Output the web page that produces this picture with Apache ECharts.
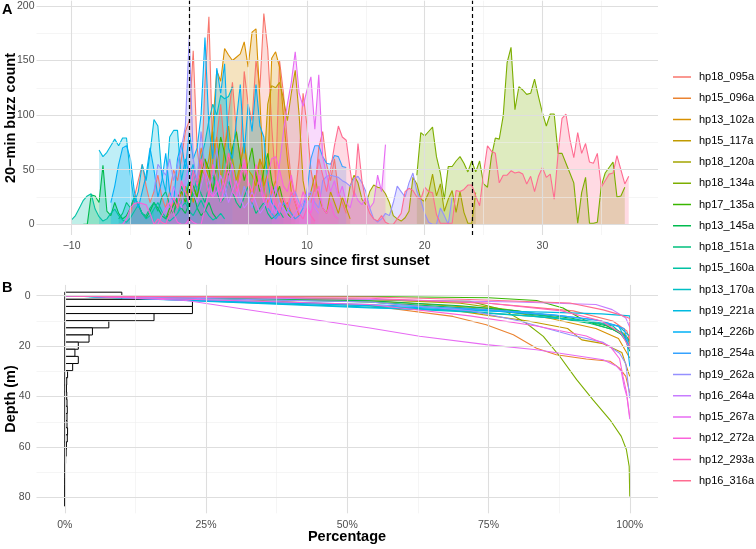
<!DOCTYPE html>
<html><head><meta charset="utf-8">
<script src="https://cdn.jsdelivr.net/npm/echarts@6/dist/echarts.min.js"></script>
<style>html,body{margin:0;padding:0;background:#fff}#c{width:756px;height:549px}</style>
</head><body><div id="c"></div>
<script>
const seriesNames = ['hp18_095a','hp15_096a','hp13_102a','hp15_117a','hp18_120a','hp18_134a','hp17_135a','hp13_145a','hp18_151a','hp15_160a','hp13_170a','hp19_221a','hp14_226b','hp18_254a','hp19_262a','hp16_264a','hp15_267a','hp12_272a','hp12_293a','hp16_316a'];
const seriesColors = ["#F8766D","#EA8331","#D89000","#C09B00","#A3A500","#7CAE00","#39B600","#00BB4E","#00BF7D","#00C1A3","#00BFC4","#00BAE0","#00B0F6","#35A2FF","#9590FF","#C77CFF","#E76BF3","#FA62DB","#FF62BC","#FF6C91"];

// start hour of each series (20-min bins)
const buzzStart = [-5, -1, -2, 0, 13.333, 19.333, -2, -9, -6, -10, -1, -7.667, -6.667, 6, -3, -2, 7, -6, -3, 10.333];

const buzz_hp18_095a = [10,25,40,55,35,20,30,45,25,15,30,50,40,60,85,95,159,70,40,130,190,60,80,110,70,100,130,85,60,140,110,95,150,125,193,160,90,40,150,120,75,40,25,60,120,90,50,30,70,85,55,40,60,30,20,10];
const buzz_hp15_096a = [10,20,35,25,50,40,70,55,30,60,80,45,35,65,50,30,55,75,40,25,45,60,35,20,30,40,25,15,20,10,5];
const buzz_hp13_102a = [5,10,20,15,30,25,40,20,35,50,45,60,90,141,131,161,155,150,153,156,167,144,176,179,114,35,47,152,158,144,99,60,30,20,8];
const buzz_hp15_117a = [20,35,25,45,60,40,85,55,35,70,90,60,40,55,75,50,45,35,60,50,110,127,125,130,115,95,120,141,100,40,20,30,45,25,15,10,30,20,10,25,15,5];
const buzz_hp18_120a = [15,35,45,38,23,18,30,36,34,33,28,20,8,5,3,6,12,43,37,23,21,29,46,26,37,12,23,31,11,30,11,1,1,29];
const buzz_hp18_134a = [45,84,81,85,89,62,47,23,53,53,58,62,56,48,58,48,58,37,34,62,79,78,99,148,162,105,126,123,119,120,133,117,102,90,101,101,65,65,56,47,38,1,29,43,1,1,2,35,47,52,57,25,26,34];
const buzz_hp17_135a = [5,15,10,25,30,20,40,35,25,45,60,50,30,55,80,65,45,70,85,60,40,55,70,45,30,50,65,40,25,35,20,10,5];
const buzz_hp13_145a = [0,0,27,26,20,54,12,8,20,10,5,8,15,25,18,10,6,12,20,15,8,5,10,18,25,15,10,20,30,15,8,12,20,10,5];
const buzz_hp18_151a = [5,10,20,15,25,18,10,8,15,20,12,25,30,18,10,20,35,25,15,30,40,28,20,35,45,30,20,25,40,30,20,15,25,35,20,10,15,20,10,5,8,12,6];
const buzz_hp15_160a = [4,8,15,22,26,28,14,7,3,5,10,14,8,4,2,6,12,18,10,5,8,14,20,12,6,3,6,10,16,20,12,8,15,22,14,8,4,6,10,5];
const buzz_hp13_170a = [10,20,30,40,50,35,60,75,95,110,100,118,115,117,126];
const buzz_hp19_221a = [68,62,66,72,78,72,79,79,45,20,30,55,40,65,96,90,45,30,80,86,86,40,60,45,55,30];
const buzz_hp14_226b = [20,35,55,70,72,60,30,15,30,45,70,50,25,40,65,30,20,60,75,50,85,60,70,100,171,90,60,143,120,147,70,60,95,128,65,110,85,128,90,80,40,20,15,8];
const buzz_hp18_254a = [40,25,15,10,5,10,20,15,10,5,8,15,30,60,72,72,62,56,55,63,62,53,52];
const buzz_hp19_262a = [30,55,50,45,60,40,55,70,90,172,60,40,85,50,30,45,70,35,25,40,55,30,20,35,25,15,30,45,20,15,25,35,20,15,10,25,30,20,15,25,30,20,15,40,44,45,44,43,40,38,35,42,44,38,30,15,5,2,5,10,8,20,35,30,25,38,47,30,22,10,2,0,0,15,8,0,25];
const buzz_hp16_264a = [10,20,35,25,15,40,55,30,20,35,50,40,25,30,45,35,20,30,40,25,15,20,30,20,10,15,25,18,10,20,15,8,5,10,15,20,30,25,15,10];
const buzz_hp15_267a = [10,30,55,85,110,130,158,120,108,123,135,87,137,62,45,30,40,25,35,20,15,30,22,18,25,15,20,45,30,73];
const buzz_hp12_272a = [0,0,5,15,19,20,19,18,10,0,0,8,15,20,10,2,0,0,5,2,0,0,15,30,25,40,20,35,50,30,25,45,60,40,30,55,35,20,45,60,62,50,35,30,45,25,15,30,20,10,25,35,15,10,20,8,5];
const buzz_hp12_293a = [0,5,2,0,10,25,15,40,30,20,50,35,60,45,25,55,40,30,45,65,50,30,40,55,35,20,30,45,25,15,35,20,10,25,15,30,20,10,5,15,8,3];
const buzz_hp16_316a = [20,35,60,45,30,50,72,90,80,77,50,25,74,40,20,10,5,3,8,2,0,0,5,10,30,33,31,25,23,34,30,29,9,1,1,1,1,31,30,32,36,36,26,17,47,72,67,65,38,45,45,49,47,48,46,37,44,30,44,52,43,46,23,65,97,101,78,61,84,65,74,57,56,65,34,40,46,47,63,50,37,44];

const buzzValues = [buzz_hp18_095a,buzz_hp15_096a,buzz_hp13_102a,buzz_hp15_117a,buzz_hp18_120a,buzz_hp18_134a,buzz_hp17_135a,buzz_hp13_145a,buzz_hp18_151a,buzz_hp15_160a,buzz_hp13_170a,buzz_hp19_221a,buzz_hp14_226b,buzz_hp18_254a,buzz_hp19_262a,buzz_hp16_264a,buzz_hp15_267a,buzz_hp12_272a,buzz_hp12_293a,buzz_hp16_316a];

// cumulative percentage vs depth: [percent, depth]
const depth_hp18_095a = [[0,0],[25,0.5],[54,1.5],[75,3],[90,6],[97,10],[99.5,14],[100,18]];
const depth_hp15_096a = [[0,0],[25,0.8],[54,4],[68.7,8.2],[74.6,11.5],[79.4,15.5],[83.5,20.8],[87,23.4],[92.3,25.1],[96.5,26],[98.2,28.7],[99.3,32],[100,38.6]];
const depth_hp13_102a = [[0,0],[25,0.5],[54,2],[75,5],[86,9],[94,13],[98,17],[100,24.7]];
const depth_hp15_117a = [[0,0],[25,0.5],[54,2.5],[65,4.5],[74,7.5],[82,10],[89,13],[91.5,17.5],[95.3,19],[98.6,22.5],[100,32]];
const depth_hp18_120a = [[0,0],[25,0.4],[54,1.5],[70,3],[80,6],[88,9],[95,11],[99,15],[100,19]];
const depth_hp18_134a = [[0,0],[25,0.3],[54,1.6],[71.7,2.2],[77.6,5.6],[81.7,10.9],[84.7,16.1],[87.6,24],[90.6,33.3],[93.5,41.3],[96.5,49.2],[98.5,55.8],[99.4,61],[99.9,67.7],[100,79.6]];
const depth_hp17_135a = [[0,0],[54,0.3],[75,0.8],[83.5,1.9],[88.2,4.9],[91.2,8.8],[94.1,11.5],[97.1,13.5],[99.4,16.1],[100,18]];
const depth_hp13_145a = [[0,0],[54,2],[70,4],[80,6],[90,9],[96,12],[99,16],[100,22]];
const depth_hp18_151a = [[0,0],[54,2.5],[72,5],[85,8],[93,11],[98,14],[100,20]];
const depth_hp15_160a = [[0,0],[54,4],[70,6],[82,8],[92,10],[97,12],[100,18]];
const depth_hp13_170a = [[0,0],[54,4.5],[72,6.5],[85,8.5],[93,10],[98,12],[100,16]];
const depth_hp19_221a = [[0,0],[54,4.8],[70,5.8],[85,6.5],[95,7.2],[100,8],[100,9]];
const depth_hp14_226b = [[0,0],[54,4],[72,5.5],[86,7.5],[94,9.5],[98,12],[99.5,18],[100,28]];
const depth_hp18_254a = [[0,0],[54,3.5],[75,5.5],[88,8],[95,10],[99,13],[100,21]];
const depth_hp19_262a = [[0,0],[54,2.5],[72,6],[80.5,10],[89.4,15.5],[95.3,18.5],[98.2,22.8],[99.3,27],[100,40.6]];
const depth_hp16_264a = [[0,0],[54,1.5],[80,2.5],[94,3.5],[96.9,5.5],[99.3,8.8],[100,12.5]];
const depth_hp15_267a = [[0,0],[4,0.2],[21.5,1.9],[54,12.8],[62.8,16.1],[74.6,19.4],[83.5,21.4],[89.4,23.4],[95.3,25.4],[97.7,28],[98.5,30],[99,36],[99.5,40],[100,49]];
const depth_hp12_272a = [[0,0],[54,3.5],[71.7,8],[83.5,12],[92.3,16],[96.5,20],[98.2,25],[98.8,32],[99.4,38],[100,48]];
const depth_hp12_293a = [[0,0],[54,1],[75,3],[88,6],[95,10],[98.5,15],[100,21]];
const depth_hp16_316a = [[0,0],[54,0.5],[71.7,1.5],[89.4,2.9],[95.3,5.6],[98.2,7.5],[99.5,8.5],[100,9],[100,20]];

const depthCurves = [depth_hp18_095a,depth_hp15_096a,depth_hp13_102a,depth_hp15_117a,depth_hp18_120a,depth_hp18_134a,depth_hp17_135a,depth_hp13_145a,depth_hp18_151a,depth_hp15_160a,depth_hp13_170a,depth_hp19_221a,depth_hp14_226b,depth_hp18_254a,depth_hp19_262a,depth_hp16_264a,depth_hp15_267a,depth_hp12_272a,depth_hp12_293a,depth_hp16_316a];

// depth histogram (percent of buzzes per bin)
const histBinWidth = 2.83;
const histBinCenters = [0,2.83,5.66,8.49,11.32,14.15,16.98,19.81,22.64,25.47,28.3,31.13,33.96,36.79,39.62,42.45,45.28,48.11,50.94,53.77,56.6,59.43,62.26,65.09,67.92,70.75,73.58,76.41,79.24,82.07];
const histPercent = [10.1,22.6,22.6,15.8,7.8,4.9,4.3,2.4,1.8,2.4,1.4,0.5,0.35,0.3,0.35,0.4,0.45,0.4,0.4,0.5,0.45,0.3,0.25,0.15,0.1,0.05,0.03,0.02,0.02,0.01];

const hourTicks = [-10,0,10,20,30], hourMinor = [-5,5,15,25,35];
const countTicks = [0,50,100,150,200], countMinor = [25,75,125,175];
const pctTicks = [0,25,50,75,100], pctMinor = [12.5,37.5,62.5,87.5];
const depthTicks = [0,20,40,60,80], depthMinor = [10,30,50,70];
const sunsetLines = [0,24];

const FONT = 'Liberation Sans';
const chart = echarts.init(document.getElementById('c'), null, {renderer:'canvas'});

function gridLines(idx, xMaj, xMin, yMaj, yMin, anchor) {
  const minor = {color:'#efefef', width:0.6, type:'solid'};
  const major = {color:'#dedede', width:1.1, type:'solid'};
  const d = [];
  xMin.forEach(v=>d.push({xAxis:v, lineStyle:minor}));
  yMin.forEach(v=>d.push({yAxis:v, lineStyle:minor}));
  xMaj.forEach(v=>d.push({xAxis:v, lineStyle:major}));
  yMaj.forEach(v=>d.push({yAxis:v, lineStyle:major}));
  return {type:'line', name:'_grid'+idx, xAxisIndex:idx, yAxisIndex:idx, data:[anchor], symbol:'none', showSymbol:false,
    lineStyle:{width:0, opacity:0}, silent:true, z:0,
    markLine:{symbol:['none','none'], silent:true, animation:false, label:{show:false}, emphasis:{disabled:true}, data:d}};
}

const series = [];
series.push(gridLines(0, hourTicks, hourMinor, countTicks, countMinor, [0,0]));
series.push(gridLines(1, pctTicks, pctMinor, depthTicks, depthMinor, [0,0]));

seriesNames.forEach((name,k)=>{
  const c = seriesColors[k];
  series.push({name, type:'line', xAxisIndex:0, yAxisIndex:0,
    data: buzzValues[k].map((v,i)=>[buzzStart[k]+i/3, v]),
    symbol:'none', showSymbol:false, z:2,
    lineStyle:{width:1.1, color:c}, itemStyle:{color:c},
    areaStyle:{color:c, opacity:0.25}, emphasis:{disabled:true}});
});

series.push({type:'line', name:'_sunset', xAxisIndex:0, yAxisIndex:0, data:[[0,0]], symbol:'none', lineStyle:{opacity:0, width:0}, z:10, silent:true,
  markLine:{symbol:['none','none'], silent:true, label:{show:false}, emphasis:{disabled:true},
    lineStyle:{color:'#000', width:1.2, type:[4,3]}, data: sunsetLines.map(v=>({xAxis:v}))}});

series.push({type:'custom', name:'_hist', xAxisIndex:1, yAxisIndex:1, z:2, silent:true,
  data: histBinCenters.map((c,i)=>[histPercent[i], c]),
  renderItem:(params, api)=>{
    const p = api.value(0), c = api.value(1);
    const a = api.coord([0, c - histBinWidth/2]);
    const b = api.coord([p, c + histBinWidth/2]);
    return {type:'rect', shape:{x:a[0], y:Math.min(a[1],b[1]), width:b[0]-a[0], height:Math.abs(b[1]-a[1])},
      style:{fill:'#ffffff', stroke:'#000000', lineWidth:1}};
  }});

seriesNames.forEach((name,k)=>{
  const c = seriesColors[k];
  series.push({name, type:'line', xAxisIndex:1, yAxisIndex:1, data: depthCurves[k],
    symbol:'none', showSymbol:false, z:3, lineStyle:{width:1.1, color:c}, itemStyle:{color:c}, emphasis:{disabled:true}});
});

const lbl = {color:'#4d4d4d', fontSize:10.5, fontFamily:FONT};
const hideAxis = {axisLine:{show:false}, axisTick:{show:false}, splitLine:{show:false}, minorSplitLine:{show:false}};

chart.setOption({
  animation:false,
  backgroundColor:'#ffffff',
  grid:[
    {left:36.5, width:621.5, top:0.7, height:234.3},
    {left:36.5, width:621.5, top:284.9, height:228.4}
  ],
  xAxis:[
    Object.assign({type:'value', gridIndex:0, min:-12.98, max:39.82,
      axisLabel:Object.assign({customValues:hourTicks, margin:6, formatter:v=>String(v).replace('-','\u2212')}, lbl)}, hideAxis),
    Object.assign({type:'value', gridIndex:1, min:-5, max:105,
      axisLabel:Object.assign({customValues:pctTicks, margin:6, formatter:v=>v+'%'}, lbl)}, hideAxis)
  ],
  yAxis:[
    Object.assign({type:'value', gridIndex:0, min:-9.75, max:204.75,
      axisLabel:Object.assign({customValues:countTicks, margin:2}, lbl)}, hideAxis),
    Object.assign({type:'value', gridIndex:1, inverse:true, min:-4.3, max:86.3,
      axisLabel:Object.assign({customValues:depthTicks, margin:6}, lbl)}, hideAxis)
  ],
  legend:{data:seriesNames, orient:'vertical', left:673, top:70, padding:0,
    icon:'path://M0,0 M0,14 M0,6.25 H18 V7.75 H0 Z',
    itemWidth:18, itemHeight:14, itemGap:7.25,
    textStyle:{fontSize:11, color:'#000', fontFamily:FONT, padding:[0,0,0,3]}, selectedMode:false},
  graphic:[
    {type:'text', x:2, y:2, style:{text:'A', fontSize:14.5, fontWeight:'bold', fontFamily:FONT, fill:'#000', align:'left', verticalAlign:'top'}},
    {type:'text', x:2, y:280, style:{text:'B', fontSize:14.5, fontWeight:'bold', fontFamily:FONT, fill:'#000', align:'left', verticalAlign:'top'}},
    {type:'text', x:347, y:261, style:{text:'Hours since first sunset', fontSize:14.5, fontWeight:'bold', fontFamily:FONT, fill:'#000', align:'center', verticalAlign:'middle'}},
    {type:'text', x:347, y:537, style:{text:'Percentage', fontSize:14.5, fontWeight:'bold', fontFamily:FONT, fill:'#000', align:'center', verticalAlign:'middle'}},
    {type:'text', x:11, y:118, rotation:Math.PI/2, style:{text:'20\u2212min buzz count', fontSize:14.5, fontWeight:'bold', fontFamily:FONT, fill:'#000', align:'center', verticalAlign:'middle'}},
    {type:'text', x:11, y:399, rotation:Math.PI/2, style:{text:'Depth (m)', fontSize:14.5, fontWeight:'bold', fontFamily:FONT, fill:'#000', align:'center', verticalAlign:'middle'}}
  ],
  series
});
</script>
</body></html>
